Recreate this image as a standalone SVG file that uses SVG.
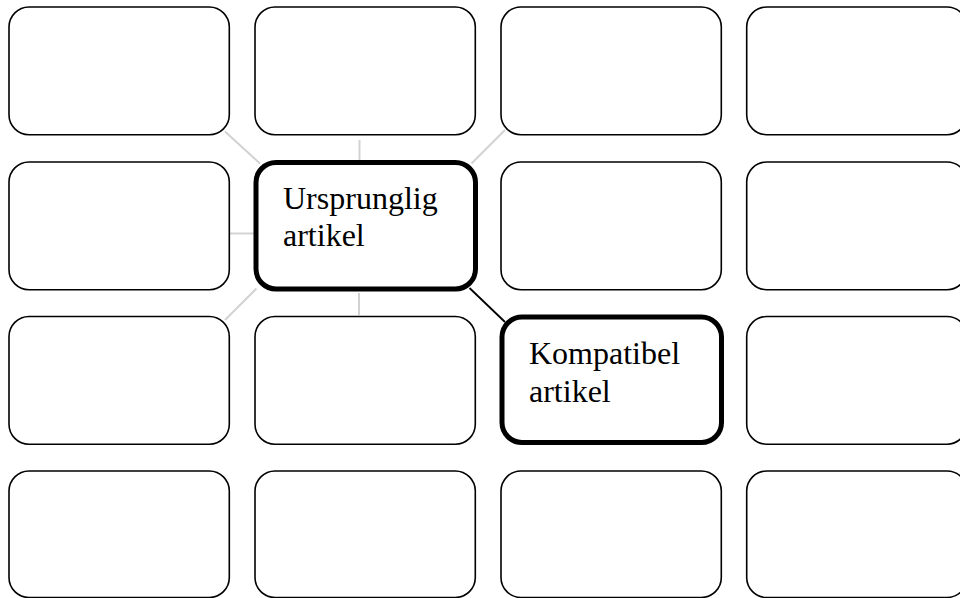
<svg xmlns="http://www.w3.org/2000/svg" width="960" height="598" viewBox="0 0 960 598">
<style>
.box{fill:#fff;stroke:#000;stroke-width:1.6}
.hl{fill:#fff;stroke:#000;stroke-width:5}
.lbl{font-family:"Liberation Serif","Times New Roman",serif;font-size:32px;fill:#000}
.gc{stroke:#d2d2d2;stroke-width:2;fill:none}
.bc{stroke:#000;stroke-width:1.8;fill:none}
</style>
<rect width="960" height="598" fill="#fff"/>
<g id="connectors">
<line class="gc" x1="225" y1="131.5" x2="260" y2="163.5"/>
<line class="gc" x1="359.5" y1="140" x2="359.5" y2="160"/>
<line class="gc" x1="471.5" y1="163.5" x2="505" y2="130"/>
<line class="gc" x1="229.5" y1="233.5" x2="254" y2="233.5"/>
<line class="gc" x1="256.5" y1="288.5" x2="225" y2="320"/>
<line class="gc" x1="359" y1="293" x2="359" y2="315"/>
<line class="bc" x1="469.5" y1="288" x2="505" y2="322"/>
</g>
<g id="n11"><rect class="box" x="9" y="7" width="220.3" height="127.7" rx="20"/></g>
<g id="n12"><rect class="box" x="255" y="7" width="220.3" height="127.7" rx="20"/></g>
<g id="n13"><rect class="box" x="501" y="7" width="220.3" height="127.7" rx="20"/></g>
<g id="n14"><rect class="box" x="746.7" y="7" width="220.3" height="127.7" rx="20"/></g>
<g id="n21"><rect class="box" x="9" y="162" width="220.3" height="127.7" rx="20"/></g>
<g id="n22"><rect class="hl" x="256" y="162.5" width="219.5" height="126.5" rx="20"/>
<text class="lbl" x="283" y="209">Ursprunglig</text>
<text class="lbl" x="283" y="246">artikel</text></g>
<g id="n23"><rect class="box" x="501" y="162" width="220.3" height="127.7" rx="20"/></g>
<g id="n24"><rect class="box" x="746.7" y="162" width="220.3" height="127.7" rx="20"/></g>
<g id="n31"><rect class="box" x="9" y="316.5" width="220.3" height="127.7" rx="20"/></g>
<g id="n32"><rect class="box" x="255" y="316.5" width="220.3" height="127.7" rx="20"/></g>
<g id="n33"><rect class="hl" x="502" y="317" width="219.5" height="125.5" rx="20"/>
<text class="lbl" x="529" y="364">Kompatibel</text>
<text class="lbl" x="529" y="401.5">artikel</text></g>
<g id="n34"><rect class="box" x="746.7" y="316.5" width="220.3" height="127.7" rx="20"/></g>
<g id="n41"><rect class="box" x="9" y="471" width="220.3" height="126.5" rx="20"/></g>
<g id="n42"><rect class="box" x="255" y="471" width="220.3" height="126.5" rx="20"/></g>
<g id="n43"><rect class="box" x="501" y="471" width="220.3" height="126.5" rx="20"/></g>
<g id="n44"><rect class="box" x="746.7" y="471" width="220.3" height="126.5" rx="20"/></g>
</svg>
